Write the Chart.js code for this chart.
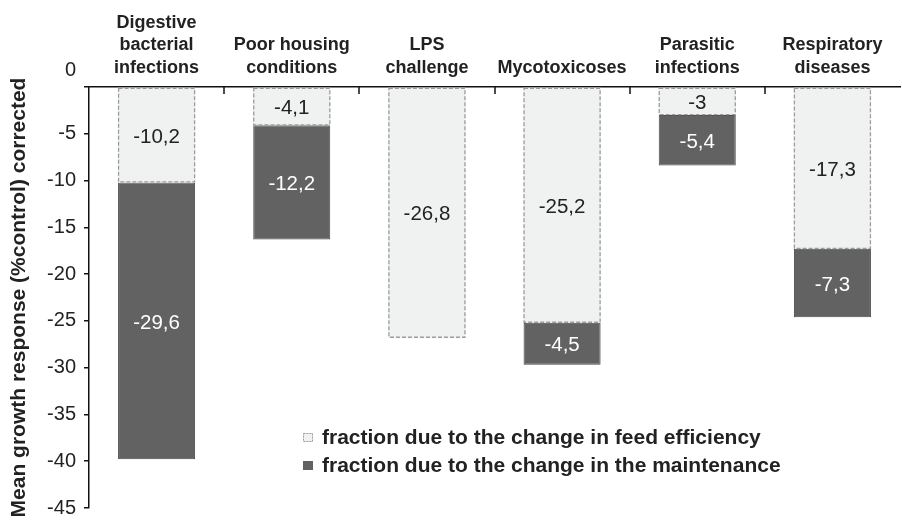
<!DOCTYPE html>
<html>
<head>
<meta charset="utf-8">
<script src="https://cdn.jsdelivr.net/npm/chart.js@4.4.0/dist/chart.umd.min.js"></script>
<style>
html, body { margin: 0; padding: 0; background: #fff; }
canvas { display: block; }
</style>
</head>
<body>
<canvas id="mycanvas" width="902" height="520"></canvas>
<script>
var categories = [
	['Digestive', 'bacterial', 'infections'],
	['Poor housing', 'conditions'],
	['LPS', 'challenge'],
	['Mycotoxicoses'],
	['Parasitic', 'infections'],
	['Respiratory', 'diseases']
];
var feedEfficiency = [-10.2, -4.1, -26.8, -25.2, -3, -17.3];
var maintenance = [-29.6, -12.2, null, -4.5, -5.4, -7.3];
var seriesNames = [
	'fraction due to the change in feed efficiency',
	'fraction due to the change in the maintenance'
];
var yMin = -45, yMax = 0, yStep = 5;
var yTitle = 'Mean growth response (%control) corrected';

var FONT = '"Liberation Sans", Arial, sans-serif';
var LIGHT = '#f0f1f1', LIGHT_EDGE = '#9c9c9c';
var DARK = '#626262', DARK_EDGE = '#4a4a4a';

function fmt(v) {
	return String(v).replace('.', ',');
}

var extras = {
	id: 'extras',
	afterDatasetsDraw: function(chart) {
		var ctx = chart.ctx;
		ctx.save();
		// dashed outline of the feed efficiency bars
		ctx.setLineDash([4, 2]);
		ctx.strokeStyle = LIGHT_EDGE;
		ctx.lineWidth = 1.3;
		chart.getDatasetMeta(0).data.forEach(function(bar) {
			var top = Math.min(bar.y, bar.base);
			var h = Math.abs(bar.base - bar.y);
			ctx.strokeRect(bar.x - bar.width / 2 + 0.5, top + 0.5, bar.width - 1, h - 1);
		});
		ctx.setLineDash([]);
		// values inside the segments
		ctx.font = '20.5px ' + FONT;
		ctx.textAlign = 'center';
		ctx.textBaseline = 'middle';
		chart.data.datasets.forEach(function(ds, di) {
			chart.getDatasetMeta(di).data.forEach(function(bar, i) {
				var v = ds.data[i];
				if (v === null) return;
				ctx.fillStyle = di === 0 ? '#222' : '#fff';
				ctx.fillText(fmt(v), bar.x, (bar.y + bar.base) / 2 + 2);
			});
		});
		ctx.restore();
	},
	afterDraw: function(chart) {
		var ctx = chart.ctx;
		var area = chart.chartArea;
		var xs = chart.scales.x, ys = chart.scales.y;
		ctx.save();
		// category separators hanging from the top axis
		ctx.strokeStyle = '#111';
		ctx.lineWidth = 1.5;
		for (var i = 0; i < categories.length - 1; i++) {
			var px = Math.round((xs.getPixelForValue(i) + xs.getPixelForValue(i + 1)) / 2);
			ctx.beginPath();
			ctx.moveTo(px, area.top);
			ctx.lineTo(px, area.top + 7);
			ctx.stroke();
		}
		// the 0 label sits up beside the category names
		ctx.fillStyle = '#222';
		ctx.font = '20px ' + FONT;
		ctx.textAlign = 'right';
		ctx.textBaseline = 'middle';
		ctx.fillText('0', area.left - 13, ys.getPixelForValue(0) - 17);
		// legend
		var lx = area.left + 214;
		var ly = area.top + 350;
		ctx.font = 'bold 21px ' + FONT;
		ctx.textAlign = 'left';
		seriesNames.forEach(function(name, k) {
			var cy = ly + k * 28;
			if (k === 0) {
				ctx.fillStyle = LIGHT;
				ctx.fillRect(lx, cy - 4, 10, 9);
				ctx.setLineDash([2, 1]);
				ctx.strokeStyle = LIGHT_EDGE;
				ctx.lineWidth = 1;
				ctx.strokeRect(lx + 0.5, cy - 3.5, 9, 8);
				ctx.setLineDash([]);
			} else {
				ctx.fillStyle = DARK;
				ctx.fillRect(lx, cy - 4, 10, 9);
			}
			ctx.fillStyle = '#222';
			ctx.fillText(name, lx + 19, cy + 1);
		});
		ctx.restore();
	}
};

var ctx = document.getElementById('mycanvas');

var chart = new Chart(ctx, {
	type: 'bar',
	data: {
		labels: categories,
		datasets: [
			{
				label: seriesNames[0],
				data: feedEfficiency,
				backgroundColor: LIGHT,
				borderWidth: 0,
				categoryPercentage: 1,
				barPercentage: 0.57
			},
			{
				label: seriesNames[1],
				data: maintenance,
				backgroundColor: DARK,
				borderColor: DARK_EDGE,
				borderWidth: 1,
				borderSkipped: false,
				categoryPercentage: 1,
				barPercentage: 0.57
			}
		]
	},
	options: {
		responsive: false,
		animation: false,
		layout: { padding: { left: 0, right: 2, top: 0, bottom: 0 } },
		plugins: {
			legend: { display: false },
			tooltip: { enabled: false }
		},
		scales: {
			x: {
				position: 'top',
				stacked: true,
				grid: { display: false, drawTicks: false },
				border: { display: true, color: '#111', width: 1.5 },
				ticks: {
					color: '#222',
					font: { family: FONT, size: 18, weight: 'bold', lineHeight: 1.25 },
					maxRotation: 0,
					autoSkip: false,
					padding: 8
				},
				afterFit: function(scale) { scale.height = 87; }
			},
			y: {
				stacked: true,
				min: yMin,
				max: yMax,
				grid: { display: true, drawOnChartArea: false, drawTicks: true, tickLength: 5, color: '#111', lineWidth: 1.5 },
				border: { display: true, color: '#111', width: 1.5 },
				ticks: {
					stepSize: yStep,
					color: '#222',
					padding: 8,
					font: { family: FONT, size: 20 },
					callback: function(v) { return v === 0 ? '' : v; }
				},
				title: {
					display: true,
					text: yTitle,
					color: '#222',
					font: { family: FONT, size: 21, weight: 'bold' },
					padding: { top: 7, bottom: 0 }
				},
				afterFit: function(scale) {
					scale.width = 89;
					scale.paddingBottom = 12;
				}
			}
		}
	},
	plugins: [extras]
});
</script>
</body>
</html>
